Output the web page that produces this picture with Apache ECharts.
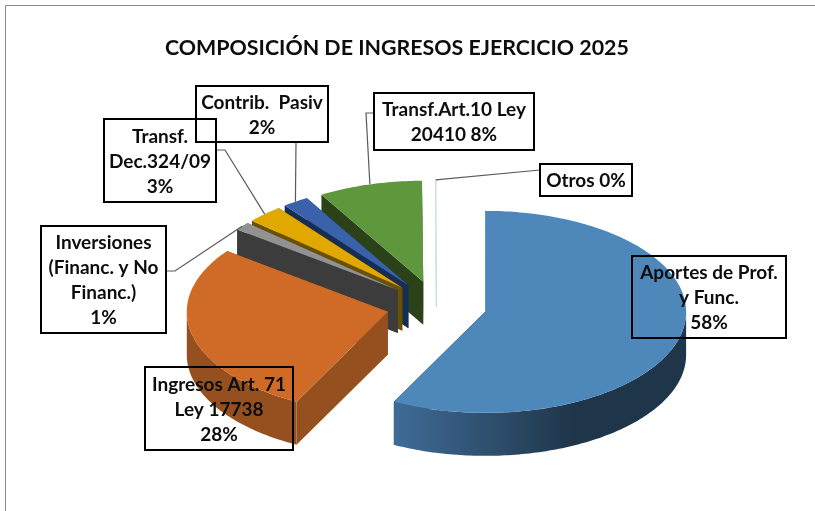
<!DOCTYPE html>
<html><head><meta charset="utf-8">
<style>html,body{margin:0;padding:0;background:#fff}#c{width:815px;height:511px}</style>
<script src="https://cdn.jsdelivr.net/npm/echarts@6/dist/echarts.min.js"></script>
</head><body><div id="c"></div>
<script>
const titleText = 'COMPOSICIÓN DE INGRESOS EJERCICIO 2025';
const categories = ['Aportes de Prof.\ny Func.', 'Ingresos Art. 71\nLey 17738', 'Inversiones\n(Financ. y No\nFinanc.)', 'Transf.\nDec.324/09', 'Contrib.  Pasiv', 'Transf.Art.10 Ley\n20410', 'Otros'];
const shares = [57.5, 27.75, 1.3, 2.9, 2.1, 8.35, 0.1];
const percentJoin = ['\n', '\n', '\n', '\n', '\n', ' ', ' '];
const topColors = ['#4e88bb', '#cf6b27', '#929292', '#e0a800', '#3a62ab', '#5f973d', '#ffffff'];
const wallColors = ['#1f3549', '#96501f', '#3c3c3c', '#6b5000', '#172e54', '#2b4218', '#e4eaf3'];
const labelBoxes = [[632,256,154,82],[145,367,148,83],[41,226,125,107],[104,119,112,83],[196,86,132,56],[374,93,160,57],[540,164,92,32]];
const leaderElbows = [null, null, [[166,271],[175,271]], [[216,150],[225,150]], [[296,142]], [[374,113],[366,113]], [[540,170]]];

const CX = 436.5, CY = 306, RX = 201, RY = 101, DEPTH = 43, EXPLODE = 50;
const total = shares.reduce((a, b) => a + b, 0);
const RAD = Math.PI / 180;
const ang = [];
shares.reduce((acc, v, i) => { ang[i] = [acc, acc + v / total * 360]; return acc + v / total * 360; }, 0);
const rim = (c, a) => [c[0] + Math.sin(a * RAD) * RX, c[1] - Math.cos(a * RAD) * RY];
const down = p => [p[0], p[1] + DEPTH];
function arc(c, a, b) {
  const pts = [], n = Math.max(1, Math.ceil(b - a));
  for (let k = 0; k <= n; k++) pts.push(rim(c, a + (b - a) * k / n));
  return pts;
}
const blueWall = new echarts.graphic.LinearGradient(0, 0, 1, 0, [
  { offset: 0, color: '#3f6c97' }, { offset: 0.62, color: '#1f3549' }, { offset: 1, color: '#1f3549' }]);

function renderItem(params) {
  const i = params.dataIndex, [a, b] = ang[i], mid = (a + b) / 2;
  const c = [CX + Math.sin(mid * RAD) * EXPLODE, CY - Math.cos(mid * RAD) * EXPLODE * RY / RX];
  const z = (shares.length - i) * 10;
  const kids = [];
  const poly = (points, fill, zz) => kids.push({ type: 'polygon', shape: { points }, style: { fill }, z2: zz, silent: true });
  [a, b].forEach(t => {
    const p = rim(c, t);
    poly([c, p, down(p), down(c)], wallColors[i], z);
  });
  const fa = Math.max(a, 90), fb = Math.min(b, 270);
  if (fb > fa) {
    const top = arc(c, fa, fb);
    poly(top.concat(top.map(down).reverse()), i === 0 ? blueWall : wallColors[i], z + 1);
  }
  poly([c].concat(arc(c, a, b)), topColors[i], z + 2);
  if (i === 6) kids.push({ type: 'polyline', shape: { points: [rim(c, mid), [c[0], c[1] + DEPTH * 0.6]] }, style: { stroke: '#cbd9ea', lineWidth: 1.4, fill: 'none' }, z2: z + 3 });
  if (leaderElbows[i]) {
    kids.push({ type: 'polyline', shape: { points: leaderElbows[i].concat([rim(c, mid)]) },
      style: { stroke: '#5a5a5a', lineWidth: 1.2, fill: 'none' }, z2: 900 });
  }
  const box = labelBoxes[i];
  kids.push({ type: 'rect', shape: { x: box[0], y: box[1], width: box[2], height: box[3] },
    style: { fill: 'none', stroke: '#000', lineWidth: 2 }, z2: 1000 });
  kids.push({ type: 'text', x: box[0] + box[2] / 2, y: box[1] + box[3] / 2 + 1, z2: 1001,
    style: { text: categories[i] + percentJoin[i] + Math.round(shares[i]) + '%',
      fontFamily: 'Lato', fontWeight: 700, fontSize: 19, lineHeight: 25, fill: '#0d0d0d',
      align: 'center', verticalAlign: 'middle' } });
  return { type: 'group', children: kids };
}

const chart = echarts.init(document.getElementById('c'), null, { renderer: 'canvas' });
chart.setOption({
  animation: false,
  backgroundColor: '#fff',
  title: { text: titleText, left: 160, top: 33, textStyle: { fontFamily: 'Lato', fontWeight: 700, fontSize: 21.4, color: '#0d0d0d' } },
  graphic: [
    { type: 'polyline', shape: { points: [[5.5, 511], [5.5, 5.5], [815, 5.5]] }, style: { stroke: '#8a8a8a', lineWidth: 1, fill: 'none' }, silent: true }
  ],
  series: [{ type: 'custom', coordinateSystem: 'none', renderItem, data: shares, silent: true }]
});
</script></body></html>
